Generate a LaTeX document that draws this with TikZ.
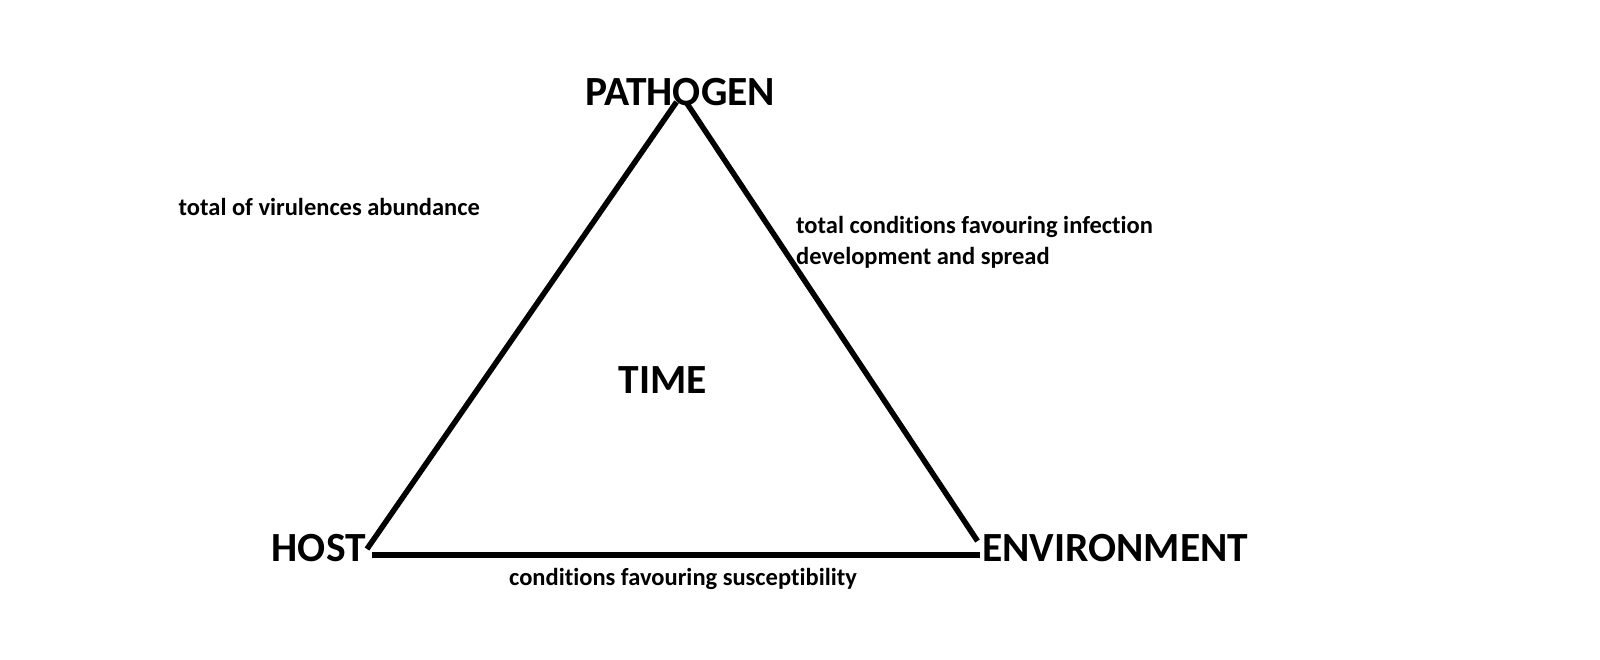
\documentclass[tikz,border=0pt]{standalone}
\usepackage{fontspec}
\setmainfont{Carlito}[Ligatures=NoCommon]
\usepackage{tikz}

\begin{document}
\begin{tikzpicture}[x=1pt,y=-1pt,
		corner/.style={font=\fontsize{41.5}{46}\selectfont\bfseries,inner sep=0pt},
		note/.style={font=\fontsize{24.5}{30.5}\selectfont\bfseries,inner sep=0pt,align=left},
		side/.style={line width=5.5pt,black}]
		\useasboundingbox (0,0) rectangle (1600,659);
		%	\draw[very thin,color=gray,step=100] (0,0) grid (1600,659);
		\node[corner] (pathogen) at (680,92) {PATHOGEN};
		\node[corner,anchor=east] (host) at (366,548) {HOST};
		\node[corner,anchor=west] (environment) at (982,548) {ENVIRONMENT};
		\node[corner] (time) at (663,380) {TIME};
		\coordinate (topL) at (676.5,102);
		\coordinate (topR) at (686,102);
		\coordinate (hostR) at (367,549);
		\coordinate (hostB) at (372,555);
		\coordinate (envL) at (977.5,541);
		\coordinate (envB) at (980,555);
		\draw[side] (topL) -- (hostR);
		\draw[side] (topR) -- (envL);
		\draw[side] (hostB) -- (envB);
		\node[note,anchor=west] (virulence) at (178.5,207) {total of virulences abundance};
		\node[note,anchor=north west] (favour) at (796,216.5) {total conditions favouring infection\\development and spread};
		\node[note] (suscept) at (683,579) {conditions favouring susceptibility};
		\end{tikzpicture}
\end{document}
